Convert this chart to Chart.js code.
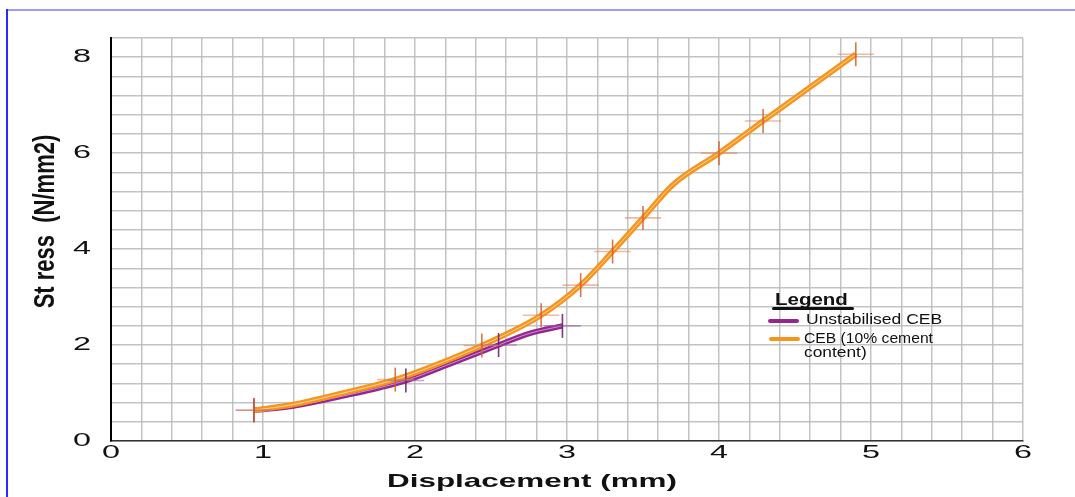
<!DOCTYPE html>
<html>
<head>
<meta charset="utf-8">
<script src="https://cdn.jsdelivr.net/npm/chart.js@4.4.0/dist/chart.umd.min.js"></script>
<style>
  html, body { margin: 0; padding: 0; background: #fff; }
  #wrap { position: relative; width: 1075px; height: 497px; overflow: hidden; font-family: "Liberation Sans", Arial, sans-serif; }
  #c { position: absolute; left: 0; top: 0; }
  .frameTop { position: absolute; left: 7px; top: 9px; width: 1068px; height: 2px; background: #9a9aff; }
  .frameLeft { position: absolute; left: 6px; top: 9px; width: 2px; height: 488px; background: #2a2aff; }
  #legend { position: absolute; left: 0; top: 0; width: 1075px; height: 497px; pointer-events: none; color: #111; }
  .lg { position: absolute; white-space: nowrap; transform-origin: 0 50%; }
  .sw { position: absolute; height: 4px; border-radius: 2px; }
</style>
</head>
<body>
<div id="wrap">
  <canvas id="c" width="1075" height="497"></canvas>
  <div class="frameTop"></div>
  <div class="frameLeft"></div>
  <div id="legend"></div>
</div>
<script>
// ---------- data ----------
const seriesNames = ["Unstabilised CEB", "CEB (10% cement content)"];
const legendTitle = "Legend";
const xTitle = "Displacement (mm)";
const yTitle = "St ress  (N/mm2)";
const xTickLabels = [0, 1, 2, 3, 4, 5, 6];
const yTickLabels = [0, 2, 4, 6, 8];

// Unstabilised CEB
const unsX = [0.94, 1.20, 1.50, 1.94, 2.20, 2.55, 2.75, 2.97];
const unsY = [0.64, 0.73, 0.92, 1.26, 1.57, 2.00, 2.24, 2.40];
const unsMarked = [1, 0, 0, 1, 0, 1, 0, 1];

// CEB (10% cement content)
const cebX = [0.94, 1.20, 1.50, 1.87, 2.10, 2.44, 2.83, 3.09, 3.30, 3.50, 3.70, 4.00, 4.29, 4.90];
const cebY = [0.64, 0.76, 0.98, 1.28, 1.54, 1.99, 2.62, 3.25, 3.95, 4.65, 5.35, 6.00, 6.67, 8.06];
const cebMarked = [1, 0, 0, 1, 0, 1, 1, 1, 1, 1, 0, 1, 1, 1];

// error bar half-sizes (data units)
const xErr = 0.12;
const yErr = 0.25;

// ---------- styles ----------
const purple = "#93278f";
const orange = "#f7941d";

const toPts = (xs, ys) => xs.map((v, i) => ({ x: v, y: ys[i] }));

// Horizontal text stretch to mimic the reference's wide lettering
const canvas = document.getElementById("c");
const ctx = canvas.getContext("2d");
const STRETCH = {};
STRETCH[xTitle] = 1.7;
STRETCH[yTitle] = 1.38;
const SHIFT = {};
SHIFT[xTitle] = [-35, 0];   // image-space shift
SHIFT[yTitle] = [-18, 0];   // along text direction (rotated)
const TICK_STRETCH = 1.75;
const origFillText = ctx.fillText;
ctx.fillText = function (text, x, y, maxWidth) {
  const s = STRETCH[text] || TICK_STRETCH;
  const sh = SHIFT[text] || [0, 0];
  const m = this.getTransform();
  const rotated = Math.abs(m.b) > 1e-3;
  this.save();
  this.translate(x, y);
  if (rotated) { this.translate(-sh[0], sh[1]); this.scale(1, s); }
  else { this.translate(sh[0], sh[1]); this.scale(s, 1); }
  if (maxWidth === undefined) origFillText.call(this, text, 0, 0);
  else origFillText.call(this, text, 0, 0, maxWidth / s);
  this.restore();
};

const errorBars = {
  id: "errorBars",
  afterDatasetsDraw(chart) {
    const c = chart.ctx, xs = chart.scales.x, ys = chart.scales.y;
    const groups = [
      { xs: unsX, ys: unsY, m: unsMarked, v: "rgba(105,35,115,0.9)", h: "rgba(150,90,160,0.55)" },
      { xs: cebX, ys: cebY, m: cebMarked, v: "rgba(210,95,40,0.85)", h: "rgba(225,130,80,0.55)" }
    ];
    c.save();
    c.lineWidth = 1.6;
    groups.forEach(g => {
      g.xs.forEach((xv, i) => {
        if (!g.m[i]) return;
        const yv = g.ys[i];
        c.strokeStyle = g.h;
        c.beginPath();
        c.moveTo(xs.getPixelForValue(xv - xErr), ys.getPixelForValue(yv));
        c.lineTo(xs.getPixelForValue(xv + xErr), ys.getPixelForValue(yv));
        c.stroke();
        c.strokeStyle = g.v;
        c.beginPath();
        c.moveTo(xs.getPixelForValue(xv), ys.getPixelForValue(yv - yErr));
        c.lineTo(xs.getPixelForValue(xv), ys.getPixelForValue(yv + yErr));
        c.stroke();
      });
    });
    c.restore();
  }
};

const isMult = (v, n) => Math.abs(v / n - Math.round(v / n)) < 1e-6;

new Chart(ctx, {
  type: "line",
  data: {
    datasets: [
      { label: seriesNames[0], data: toPts(unsX, unsY), borderColor: purple, borderWidth: 5.5,
        pointRadius: 0, cubicInterpolationMode: "monotone", fill: false, order: 2 },
      { label: seriesNames[0] + " hl", data: toPts(unsX, unsY), borderColor: "rgba(225,170,225,0.8)", borderWidth: 1,
        pointRadius: 0, cubicInterpolationMode: "monotone", fill: false, order: 1 },
      { label: seriesNames[1], data: toPts(cebX, cebY), borderColor: orange, borderWidth: 5.5,
        pointRadius: 0, cubicInterpolationMode: "monotone", fill: false, order: 0 },
      { label: seriesNames[1] + " hl", data: toPts(cebX, cebY), borderColor: "rgba(255,225,175,0.85)", borderWidth: 1,
        pointRadius: 0, cubicInterpolationMode: "monotone", fill: false, order: -1 }
    ]
  },
  options: {
    responsive: false,
    animation: false,
    devicePixelRatio: 1,
    layout: { padding: { top: 38, right: 52, left: 0, bottom: 0 } },
    plugins: { legend: { display: false }, tooltip: { enabled: false } },
    scales: {
      x: {
        type: "linear", min: 0, max: 6,
        afterFit: s => { s.height = 56; },
        ticks: {
          stepSize: 0.2, padding: 1, color: "#111", maxRotation: 0, autoSkip: false,
          font: { family: "Liberation Sans", size: 18.5 },
          callback: v => (isMult(v, 1) && xTickLabels.includes(Math.round(v))) ? String(Math.round(v)) : ""
        },
        grid: { color: "rgba(185,185,185,0.85)", lineWidth: 1.5, drawTicks: false },
        border: { color: "#333", width: 1.5 },
        title: { display: true, text: xTitle, color: "#111", padding: { top: 0, bottom: 4 },
          font: { family: "Liberation Sans", size: 18.5, weight: "bold" } }
      },
      y: {
        type: "linear", min: 0, max: 8.4,
        afterFit: s => { s.width = 111; },
        ticks: {
          stepSize: 0.4, padding: 20, color: "#111", autoSkip: false,
          font: { family: "Liberation Sans", size: 18.5 },
          callback: v => (isMult(v, 2) && yTickLabels.includes(Math.round(v))) ? String(Math.round(v)) : ""
        },
        grid: { color: "rgba(185,185,185,0.85)", lineWidth: 1.5, drawTicks: false },
        border: { color: "#000", width: 2 },
        title: { display: true, text: yTitle, color: "#111", padding: { top: 32, bottom: 0 },
          font: { family: "Liberation Sans", size: 22, weight: "bold" } }
      }
    }
  },
  plugins: [errorBars]
});

// ---------- legend (HTML overlay) ----------
const lg = document.getElementById("legend");
function addText(txt, left, cy, size, bold, sx) {
  const d = document.createElement("div");
  d.className = "lg";
  d.textContent = txt;
  d.style.left = left + "px";
  d.style.top = (cy - size * 0.6) + "px";
  d.style.fontSize = size + "px";
  d.style.lineHeight = (size * 1.2) + "px";
  d.style.fontWeight = bold ? "bold" : "normal";
  d.style.transform = "scaleX(" + sx + ")";
  lg.appendChild(d);
}
function addBar(left, top, w, h, color) {
  const d = document.createElement("div");
  d.className = "sw";
  d.style.left = left + "px"; d.style.top = top + "px";
  d.style.width = w + "px"; d.style.height = h + "px";
  d.style.background = color;
  lg.appendChild(d);
}
addText(legendTitle, 775, 300, 16, true, 1.28);
addBar(772, 306.5, 82, 3.5, "#111");
addBar(768, 319, 31, 4, purple);
addText(seriesNames[0], 806, 319, 14, false, 1.25);
addBar(769, 337, 31, 4, orange);
const parts = seriesNames[1].split(" cement ");
addText(parts[0] + " cement", 804, 338, 14, false, 1.12);
addText(parts[1], 804, 352, 14, false, 1.24);
</script>
</body>
</html>
